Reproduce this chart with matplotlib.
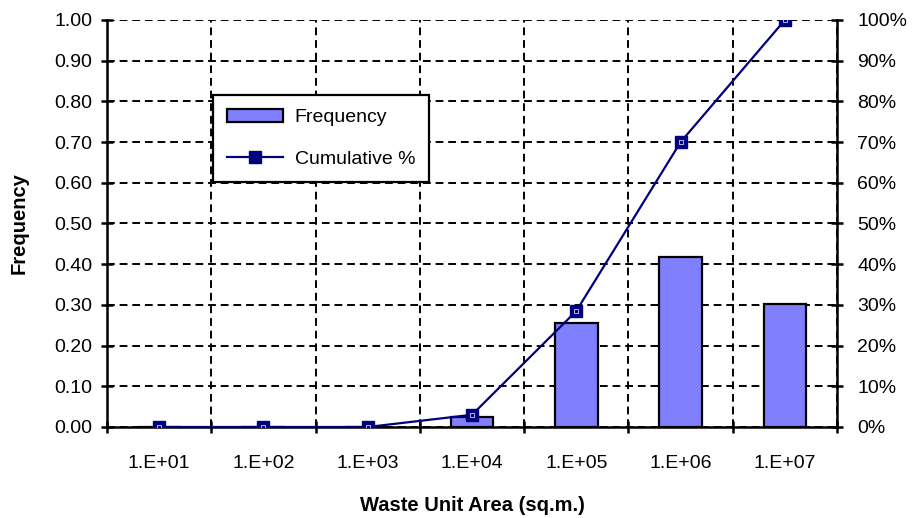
import matplotlib
matplotlib.use("Agg")
from matplotlib import pyplot as plt
from matplotlib.ticker import FixedLocator, PercentFormatter

plt.rcParams['font.family'] = ['Liberation Sans', 'DejaVu Sans']

categories = ['1.E+01', '1.E+02', '1.E+03', '1.E+04', '1.E+05', '1.E+06', '1.E+07']
frequency = [0.0, 0.0, 0.0, 0.025, 0.255, 0.418, 0.302]
cumulative = [0.0, 0.0, 0.0, 0.03, 0.285, 0.70, 1.00]

fig = plt.figure(figsize=(9.17, 5.18), dpi=100)
ax = fig.add_axes([0.1167, 0.1757, 0.7961, 0.7857])
ax2 = ax.twinx()

x = list(range(len(categories)))
bars = ax.bar(x, frequency, width=0.41, color='#8080FF', edgecolor='black',
              linewidth=1.6, label='Frequency', zorder=3)
line, = ax2.plot(x, cumulative, color='#000080', linewidth=1.6, marker='s',
                 markersize=8, markerfacecolor='#000080', markeredgecolor='#000080',
                 label='Cumulative %', zorder=4)
# small white inner detail like the excel marker
ax2.plot(x, cumulative, linestyle='none', marker='s', markersize=2.5,
         markerfacecolor='none', markeredgecolor='white', markeredgewidth=0.5, zorder=5)

ax.set_xlim(-0.5, len(categories) - 0.5)
ax.set_ylim(0, 1.0)
ax2.set_ylim(0, 1.0)

ax.set_yticks([i / 10 for i in range(11)])
ax.set_yticklabels(['%.2f' % (i / 10) for i in range(11)])
ax2.set_yticks([i / 10 for i in range(11)])
ax2.yaxis.set_major_formatter(PercentFormatter(1.0, decimals=0))

# boundaries get tick marks and gridlines, labels sit in the middle
ax.xaxis.set_major_locator(FixedLocator([i + 0.5 for i in range(-1, len(categories))]))
ax.xaxis.set_major_formatter(plt.NullFormatter())
ax.xaxis.set_minor_locator(FixedLocator(x))
ax.set_xticklabels(categories, minor=True)
ax.tick_params(axis='x', which='minor', length=0, pad=20, labelsize=14)
ax.tick_params(axis='x', which='major', direction='inout', length=9, width=1.8)
ax.tick_params(axis='y', direction='inout', length=9, width=1.8, labelsize=14, pad=6)
ax2.tick_params(axis='y', direction='inout', length=9, width=1.8, labelsize=14, pad=10)

ax.grid(True, which='major', color='black', linestyle=(0, (4, 2.5)), linewidth=1.4, zorder=0)
ax.set_axisbelow(True)

ax.spines['top'].set_visible(False)
ax2.spines['top'].set_visible(False)
ax.spines['right'].set_visible(False)
ax2.spines['left'].set_visible(False)
ax2.spines['bottom'].set_visible(False)
ax.spines['left'].set_linewidth(1.8)
ax.spines['bottom'].set_linewidth(1.8)
ax2.spines['right'].set_linewidth(1.8)

ax.set_ylabel('Frequency', fontsize=14.5, fontweight='bold')
ax.set_xlabel('Waste Unit Area (sq.m.)', fontsize=14.5, fontweight='bold')
ax.yaxis.set_label_coords(-0.108, 0.5)
ax.xaxis.set_label_coords(0.5, -0.17)

leg = fig.legend([bars, line], ['Frequency', 'Cumulative %'], loc='upper left',
                 bbox_to_anchor=(213 / 917, 1 - 95 / 518), borderaxespad=0,
                 fontsize=14, frameon=True, fancybox=False, edgecolor='black',
                 framealpha=1, handlelength=2.9, handletextpad=0.6,
                 borderpad=0.7, labelspacing=1.25)
leg.get_frame().set_linewidth(1.6)

fig.savefig('out.png', dpi=100)
